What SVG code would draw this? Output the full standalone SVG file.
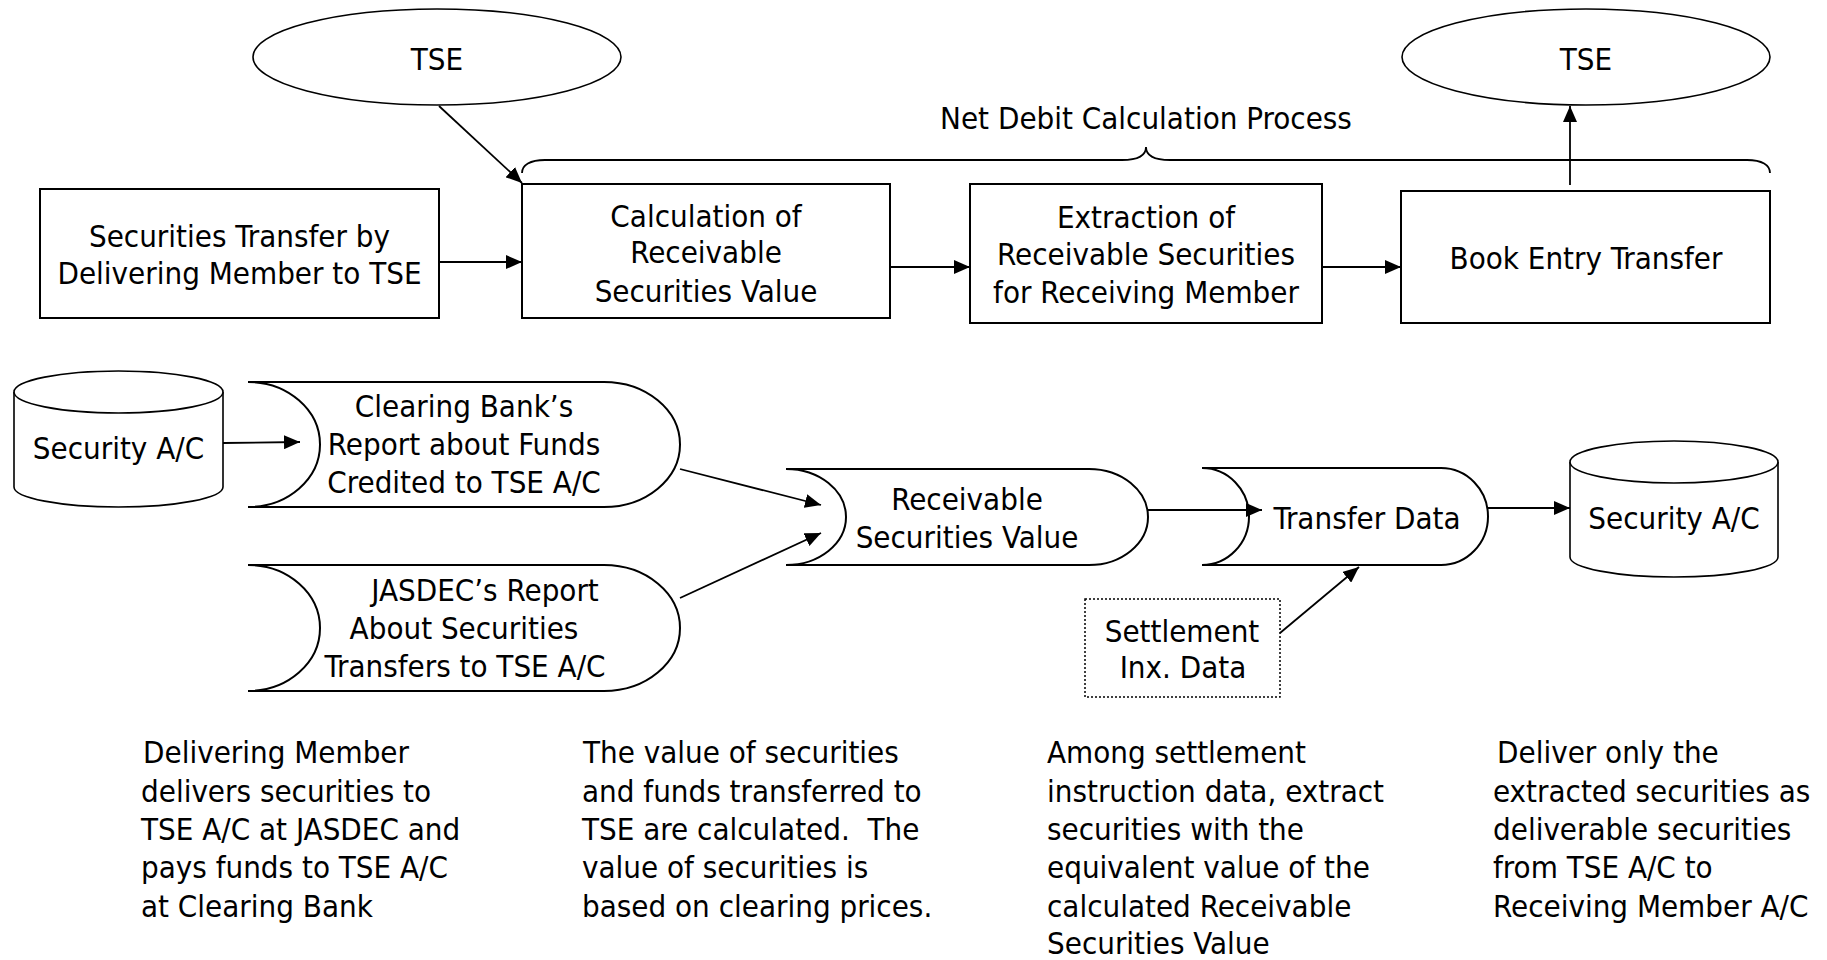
<svg xmlns="http://www.w3.org/2000/svg" width="1827" height="960" viewBox="0 0 1827 960">
<style>
text { font-family: "DejaVu Sans Condensed", "DejaVu Sans", sans-serif; font-stretch: condensed; font-size: 31px; fill: #000; }
.c { text-anchor: middle; }
.shape { fill: #fff; stroke: #000; stroke-width: 2; }
.thin { fill: #fff; stroke: #000; stroke-width: 1.6; }
.line { fill: none; stroke: #000; stroke-width: 1.8; marker-end: url(#ah); }
.brace { fill: none; stroke: #000; stroke-width: 1.8; }
.dot { fill: #fff; stroke: #000; stroke-width: 1.5; stroke-dasharray: 2 2; }
</style>
<defs>
<marker id="ah" markerUnits="userSpaceOnUse" markerWidth="16" markerHeight="14" refX="16" refY="7" orient="auto">
<path d="M0,0 L16,7 L0,14 Z" fill="#000"/>
</marker>
</defs>
<rect width="1827" height="960" fill="#fff"/>

<g id="tse-left">
<ellipse class="thin" cx="437" cy="57" rx="184" ry="48"/>
<text class="c" x="437" y="70">TSE</text>
</g>
<g id="tse-right">
<ellipse class="thin" cx="1586" cy="57" rx="184" ry="48"/>
<text class="c" x="1586" y="70">TSE</text>
</g>
<g id="net-debit">
<path class="brace" d="M522,173 C522,165 530,160 545,160 L1122,160 C1138,160 1146,156 1146,147 C1146,156 1154,160 1170,160 L1747,160 C1762,160 1770,165 1770,173"/>
<text class="c" x="1146" y="129">Net Debit Calculation Process</text>
</g>
<g id="box-transfer">
<rect class="shape" x="40" y="189" width="399" height="129"/>
<text class="c" x="239.5" y="247">Securities Transfer by</text>
<text class="c" x="239.5" y="284">Delivering Member to TSE</text>
</g>
<g id="box-calc">
<rect class="shape" x="522" y="184" width="368" height="134"/>
<text class="c" x="706" y="227">Calculation of</text>
<text class="c" x="706" y="263">Receivable</text>
<text class="c" x="706" y="302">Securities Value</text>
</g>
<g id="box-extract">
<rect class="shape" x="970" y="184" width="352" height="139"/>
<text class="c" x="1146" y="228">Extraction of</text>
<text class="c" x="1146" y="265">Receivable Securities</text>
<text class="c" x="1146" y="303">for Receiving Member</text>
</g>
<g id="box-book">
<rect class="shape" x="1401" y="191" width="369" height="132"/>
<text class="c" x="1586" y="269">Book Entry Transfer</text>
</g>

<g id="cyl-left">
<path class="thin" d="M14,392 A104.5,21 0 0 1 223,392 L223,487 A104.5,20 0 0 1 14,487 Z"/>
<path class="thin" fill="none" d="M14,392 A104.5,21 0 0 0 223,392"/>
<text class="c" x="118.5" y="459">Security A/C</text>
</g>
<g id="doc-clearing">
<path class="shape" d="M248,382 L604,382 A76,62.5 0 0 1 680,444.5 A76,62.5 0 0 1 604,507 L248,507 A72,62.5 0 0 0 320,444.5 A72,62.5 0 0 0 248,382 Z"/>
<text class="c" x="464" y="417">Clearing Bank’s</text>
<text class="c" x="464" y="455">Report about Funds</text>
<text class="c" x="464" y="493">Credited to TSE A/C</text>
</g>
<g id="doc-jasdec">
<path class="shape" d="M248,565 L604,565 A76,63 0 0 1 680,628 A76,63 0 0 1 604,691 L248,691 A72,63 0 0 0 320,628 A72,63 0 0 0 248,565 Z"/>
<text class="c" x="485" y="601">JASDEC’s Report</text>
<text class="c" x="464" y="639">About Securities</text>
<text class="c" x="465" y="677">Transfers to TSE A/C</text>
</g>
<g id="doc-receivable">
<path class="shape" d="M786,469 L1089,469 A59,48 0 0 1 1148,517 A59,48 0 0 1 1089,565 L786,565 A60,48 0 0 0 846,517 A60,48 0 0 0 786,469 Z"/>
<text class="c" x="967" y="510">Receivable</text>
<text class="c" x="967" y="548">Securities Value</text>
</g>
<g id="doc-transfer">
<path class="shape" d="M1202,468 L1441,468 A47,48.5 0 0 1 1488,516.5 A47,48.5 0 0 1 1441,565 L1202,565 A47,48.5 0 0 0 1249,516.5 A47,48.5 0 0 0 1202,468 Z"/>
<text class="c" x="1367" y="529">Transfer Data</text>
</g>
<g id="cyl-right">
<path class="thin" d="M1570,462 A104,21 0 0 1 1778,462 L1778,557 A104,20 0 0 1 1570,557 Z"/>
<path class="thin" fill="none" d="M1570,462 A104,21 0 0 0 1778,462"/>
<text class="c" x="1674" y="529">Security A/C</text>
</g>
<g id="settlement">
<rect class="dot" x="1085" y="599" width="195" height="98"/>
<text class="c" x="1182" y="642">Settlement</text>
<text class="c" x="1183" y="678">Inx. Data</text>
</g>

<g id="connectors">
<line class="line" x1="439" y1="106" x2="522" y2="183"/>
<line class="line" x1="439" y1="262" x2="522" y2="262"/>
<line class="line" x1="890" y1="267" x2="970" y2="267"/>
<line class="line" x1="1322" y1="267" x2="1401" y2="267"/>
<line class="line" x1="1570" y1="185" x2="1570" y2="106"/>
<line class="line" x1="223" y1="443" x2="300" y2="442"/>
<line class="line" x1="680" y1="469" x2="821" y2="505"/>
<line class="line" x1="680" y1="598" x2="821" y2="533"/>
<line class="line" x1="1148" y1="510" x2="1262" y2="510"/>
<line class="line" x1="1488" y1="508" x2="1570" y2="508"/>
<line class="line" x1="1280" y1="633" x2="1359" y2="567"/>
</g>

<g id="note-1">
<text x="143" y="763">Delivering Member</text>
<text x="141" y="802">delivers securities to</text>
<text x="141" y="840">TSE A/C at JASDEC and</text>
<text x="141" y="878">pays funds to TSE A/C</text>
<text x="141" y="917">at Clearing Bank</text>
</g>
<g id="note-2">
<text x="583" y="763">The value of securities</text>
<text x="582" y="802">and funds transferred to</text>
<text x="582" y="840" xml:space="preserve">TSE are calculated.  The</text>
<text x="582" y="878">value of securities is</text>
<text x="582" y="917">based on clearing prices.</text>
</g>
<g id="note-3">
<text x="1047" y="763">Among settlement</text>
<text x="1047" y="802">instruction data, extract</text>
<text x="1047" y="840">securities with the</text>
<text x="1047" y="878">equivalent value of the</text>
<text x="1047" y="917">calculated Receivable</text>
<text x="1047" y="954">Securities Value</text>
</g>
<g id="note-4">
<text x="1497" y="763">Deliver only the</text>
<text x="1493" y="802">extracted securities as</text>
<text x="1493" y="840">deliverable securities</text>
<text x="1493" y="878">from TSE A/C to</text>
<text x="1493" y="917">Receiving Member A/C</text>
</g>
</svg>
